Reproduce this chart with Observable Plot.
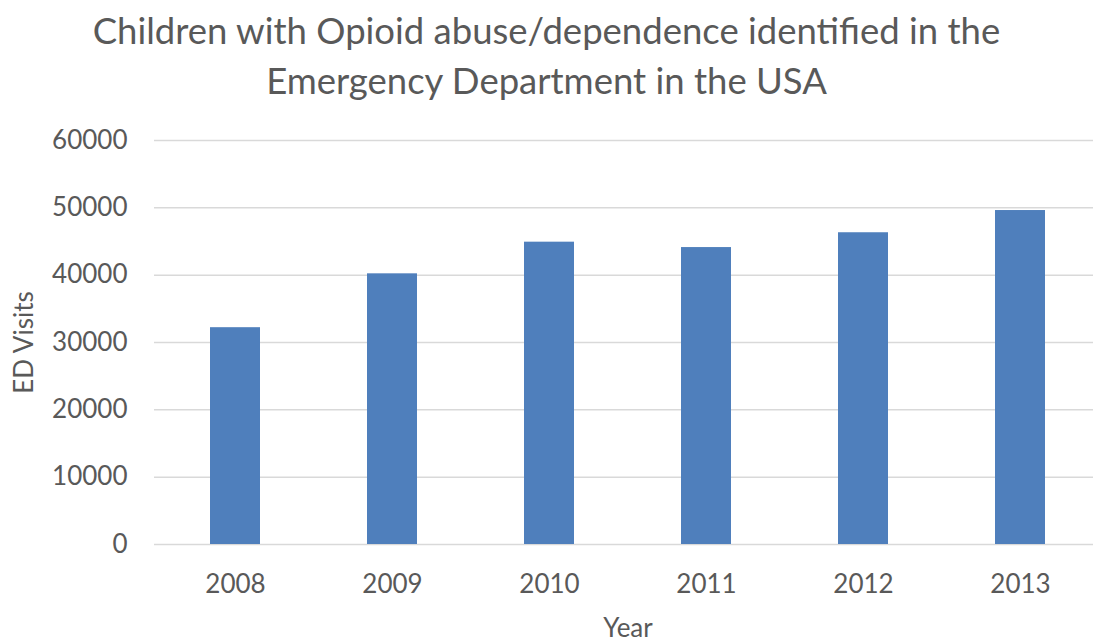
<!DOCTYPE html>
<html>
<head>
<meta charset="utf-8">
<script src="https://cdn.jsdelivr.net/npm/d3@7"></script>
<script src="https://cdn.jsdelivr.net/npm/@observablehq/plot@0.6"></script>
<style>
  html, body { margin: 0; padding: 0; background: #fff; overflow: hidden; }
  #title {
    width: 1093px; height: 112px; box-sizing: border-box; padding-top: 5px;
    text-align: center; font-family: Lato, "Open Sans", sans-serif; font-size: 36.5px;
    line-height: 50px; color: #595959;
  }
  #chart svg { display: block; }
</style>
</head>
<body>
<div id="title">Children with Opioid abuse/dependence identified in the<br>Emergency Department in the USA</div>
<div id="chart"></div>
<script>
const years = ["2008", "2009", "2010", "2011", "2012", "2013"];
const visits = [32200, 40200, 44900, 44100, 46300, 49600];
const yTicks = [0, 10000, 20000, 30000, 40000, 50000, 60000];

const data = years.map((year, i) => ({ year, visits: visits[i] }));

const chart = Plot.plot({
  width: 1093,
  height: 532,
  marginLeft: 154,
  marginRight: -8,
  marginTop: 28,
  marginBottom: 100,
  style: { fontFamily: "Lato, 'Open Sans', sans-serif", color: "#595959", background: "#fff", overflow: "visible" },
  x: { domain: years, paddingInner: 0.684, paddingOuter: 0.342, label: "Year" },
  y: { domain: [0, 60000], ticks: yTicks, label: "ED Visits" },
  marks: [
    Plot.gridY(yTicks, { stroke: "#d9d9d9", strokeOpacity: 1, strokeWidth: 1.5 }),
    Plot.barY(data, { x: "year", y: "visits", fill: "#4f7fbc" }),
    Plot.axisY(yTicks, {
      tickSize: 0, tickPadding: 27, fontSize: 26, tickFormat: d => String(d),
      label: "ED Visits", labelAnchor: "center", labelArrow: "none", labelOffset: 140
    }),
    Plot.axisX({
      tickSize: 0, tickPadding: 30, fontSize: 26,
      label: "Year", labelAnchor: "center", labelArrow: "none", labelOffset: 92
    })
  ]
});
document.getElementById("chart").appendChild(chart);
</script>
</body>
</html>
